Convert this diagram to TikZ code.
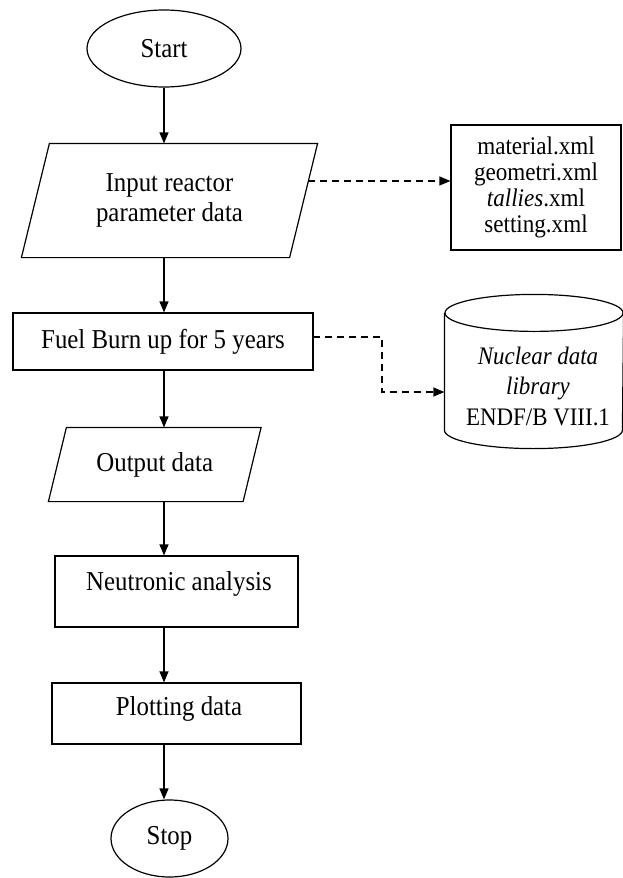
\documentclass[tikz,border=0pt]{standalone}
\usepackage{fontspec}
\setmainfont{Liberation Serif}[FakeStretch=0.91]
\usetikzlibrary{shapes.geometric,arrows.meta,calc}
\begin{document}
\begin{tikzpicture}[x=1pt,y=-1pt,
  line width=1.2pt,
  flow/.style={-{Triangle[length=11pt,width=9pt]}},
  dashflow/.style={flow, dash pattern=on 7pt off 5pt},
  term/.style={draw, ellipse, inner sep=0pt, font=\fontsize{27.3}{30}\selectfont},
  boxnode/.style={draw, rectangle, inner sep=0pt, font=\fontsize{27.3}{30}\selectfont, align=center},
  ghost/.style={rectangle, inner sep=0pt, font=\fontsize{27.3}{30}\selectfont, align=center},
  txt/.style={inner sep=0pt, font=\fontsize{27.3}{30}\selectfont, align=center},
  smalltxt/.style={inner sep=0pt, align=center},
]
\useasboundingbox[fill=white] (0,0) rectangle (622,878);

\coordinate (axis) at (164,0);

% main column
\node[term, minimum width=154pt, minimum height=77pt] (start) at (164,48.5) {Start};

\node[ghost, minimum width=267pt, minimum height=113pt] (input) at (169.5,200.5)
  {Input reactor\\parameter data};
\draw ([xshift=14pt]input.north west) -- ([xshift=14pt]input.north east)
  -- ([xshift=-14pt]input.south east) -- ([xshift=-14pt]input.south west) -- cycle;

\node[boxnode, minimum width=300pt, minimum height=57pt] (fuel) at (163,341.5)
  {Fuel Burn up for 5 years};

\node[ghost, minimum width=193.5pt, minimum height=73pt] (output) at (154.75,464.5)
  {Output data};
\draw ([xshift=9pt]output.north west) -- ([xshift=9pt]output.north east)
  -- ([xshift=-9pt]output.south east) -- ([xshift=-9pt]output.south west) -- cycle;

\node[boxnode, minimum width=243pt, minimum height=71pt] (neut) at (176.5,591.5) {};
\node[txt] (neuttext) at (179,584) {Neutronic analysis};

\node[boxnode, minimum width=249pt, minimum height=61pt] (plot) at (176.5,713.5) {};
\node[txt] (plottext) at (179,709) {Plotting data};

\node[term, minimum width=117pt, minimum height=77pt] (stop) at (169.5,838.5) {Stop};

% side nodes
\node[boxnode, minimum width=170pt, minimum height=125pt,
  font=\fontsize{25.4}{26}\selectfont] (files) at (536,187.5)
  {material.xml\\geometri.xml\\\textit{tallies}.xml\\setting.xml};

\node[ghost, minimum width=178pt, minimum height=153pt] (lib) at (534,371.5) {};
\draw ([yshift=-18.5pt]lib.north) ellipse[x radius=89pt, y radius=18.5pt];
\draw ([yshift=-18.5pt]lib.north west) -- ([yshift=18.5pt]lib.south west)
  arc[start angle=180, end angle=360, x radius=89pt, y radius=18.5pt]
  -- ([yshift=-18.5pt]lib.north east);
\node[smalltxt, font=\fontsize{25.2}{30.5}\selectfont] (libtext) at (538,386)
  {\textit{Nuclear data}\\\textit{library}\\ENDF/B VIII.1};

% main arrows
\draw[flow] (start.south) -- (axis |- input.north);
\draw[flow] (axis |- input.south) -- (axis |- fuel.north);
\draw[flow] (axis |- fuel.south) -- (axis |- output.north);
\draw[flow] (axis |- output.south) -- (axis |- neut.north);
\draw[flow] (axis |- neut.south) -- (axis |- plot.north);
\draw[flow] (axis |- plot.south) -- (axis |- stop.north);

% dashed arrows
\coordinate (d1) at (308,181);
\draw[dashflow] (d1) -- (d1 -| files.west);
\coordinate (d2) at (313,337);
\coordinate (d2b) at (382,337);
\coordinate (d2c) at (382,392);
\draw[dashflow] (d2) -- (d2b) -- (d2c) -- (d2c -| lib.west);
\end{tikzpicture}
\end{document}
